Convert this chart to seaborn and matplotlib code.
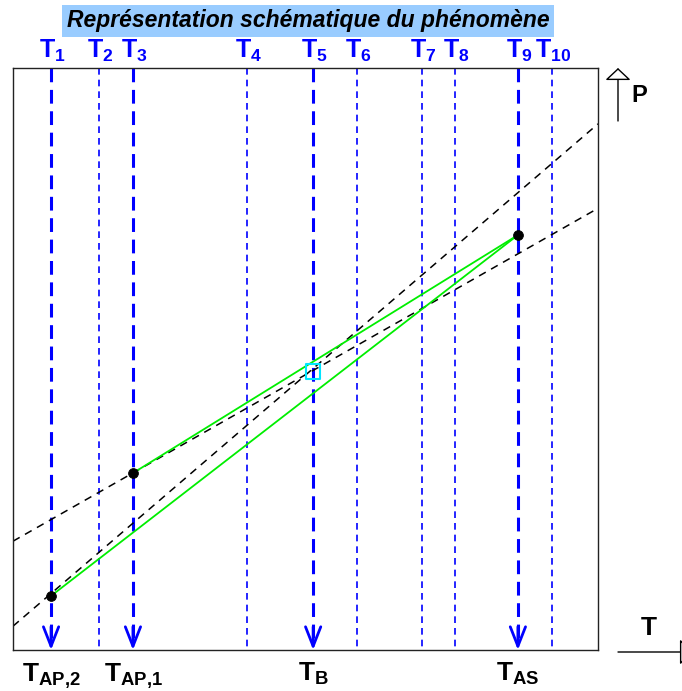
#!/usr/bin/env python3
"""Schematic of the phenomenon: T lines, three states and their tie lines."""

import matplotlib.pyplot as plt
import pandas as pd
import seaborn as sns

sns.set_style("white")
plt.rcParams["font.family"] = ["Liberation Sans", "DejaVu Sans"]
plt.rcParams["text.color"] = "black"
plt.rcParams["mathtext.fontset"] = "custom"
plt.rcParams["mathtext.rm"] = "Liberation Sans:bold"
plt.rcParams["mathtext.it"] = "Liberation Sans:bold"
plt.rcParams["mathtext.bf"] = "Liberation Sans:bold"

# Vertical T lines (axis units 0-100)
T_NAMES = ["1", "2", "3", "4", "5", "6", "7", "8", "9", "10"]
T_POS = [6.5, 14.7, 20.5, 40.0, 51.3, 58.8, 69.9, 75.6, 86.3, 92.1]
T_MAIN = ["1", "3", "5", "9"]          # thick lines ending with an arrow
BOTTOM_LABELS = {"1": "AP{,}2", "3": "AP{,}1", "5": "B", "9": "AS"}

# States (black dots)
STATE_X = [6.5, 20.5, 86.3]
STATE_Y = [9.3, 30.4, 71.3]

# Intersection marker
CROSS_X = [51.3]
CROSS_Y = [47.9]

# Dashed construction lines, end points at x=0 and x=100
LINE_X = [0, 100]
LINE_A_Y = [4.1, 90.4]
LINE_B_Y = [18.7, 75.9]

TITLE = "Représentation schématique du phénomène"


def main():
    fig = plt.figure(figsize=(6.82, 6.91), dpi=100)
    ax = fig.add_axes([0.0191, 0.0593, 0.8578, 0.8423])
    ax.set(xlim=(0, 100), ylim=(0, 100), xticks=[], yticks=[])
    for s in ax.spines.values():
        s.set_color("#222222")
        s.set_linewidth(1.0)

    # T lines
    for name, x in zip(T_NAMES, T_POS):
        if name in T_MAIN:
            ax.plot([x, x], [100, 1.5], color="blue", lw=2.2,
                    dashes=(4.5, 2.5), zorder=2)
            ax.annotate("", xy=(x, 0), xytext=(x, 4),
                        arrowprops=dict(arrowstyle="->,head_length=1.4,head_width=0.55",
                                        color="blue", lw=2, shrinkA=0, shrinkB=0))
            ax.annotate(rf"$\mathrm{{T}}_{{\mathrm{{{BOTTOM_LABELS[name]}}}}}$",
                        xy=(x, 0), xycoords="data", xytext=(0, -8),
                        textcoords="offset points", ha="center", va="top",
                        fontsize=19, color="black", annotation_clip=False)
        else:
            ax.plot([x, x], [100, 0], color="blue", lw=1.2,
                    dashes=(4, 3), zorder=2)
        ax.annotate(rf"$\mathrm{{T}}_{{{name}}}$", xy=(x, 100), xytext=(1, 3),
                    textcoords="offset points", ha="center", va="bottom",
                    fontsize=18, color="blue", annotation_clip=False)

    # Dashed construction lines
    lines = pd.DataFrame({"x": LINE_X * 2, "y": LINE_A_Y + LINE_B_Y,
                          "line": ["a", "a", "b", "b"]})
    sns.lineplot(data=lines, x="x", y="y", units="line", estimator=None,
                 color="black", lw=1.1, legend=False, ax=ax,
                 dashes=False, linestyle=(0, (5, 4)))

    # Green tie lines to the last state
    green = pd.DataFrame({"x": [STATE_X[0], STATE_X[2], STATE_X[1], STATE_X[2]],
                          "y": [STATE_Y[0], STATE_Y[2], STATE_Y[1], STATE_Y[2]],
                          "seg": ["p", "p", "q", "q"]})
    sns.lineplot(data=green, x="x", y="y", units="seg", estimator=None,
                 sort=False, color="#00ee00", lw=1.3, legend=False, ax=ax)

    sns.scatterplot(x=STATE_X, y=STATE_Y, color="black", s=50,
                    edgecolor="black", zorder=5, ax=ax)
    ax.scatter(CROSS_X, CROSS_Y, marker="s", s=110, facecolor="none",
               edgecolor="#00e5ff", lw=1.5, zorder=5)
    ax.set(xlabel="", ylabel="")

    # Title
    fig.text(308 / 682, 1 - 21 / 691, TITLE, ha="center", va="center",
             fontsize=16.5, fontweight="bold", fontstyle="italic", color="black",
             bbox=dict(boxstyle="square,pad=0.2", fc="#99ccff", ec="none"))

    # Axis arrows P and T
    ax.annotate("", xy=(618, 691 - 68), xytext=(618, 691 - 121),
                xycoords="figure pixels", textcoords="figure pixels",
                arrowprops=dict(arrowstyle="-|>,head_length=0.75,head_width=0.8",
                                fc="white", ec="black", lw=1, shrinkA=0, shrinkB=0),
                annotation_clip=False)
    fig.text(631 / 682, 1 - 96 / 691, "P", ha="left", va="center",
             fontsize=17, fontweight="bold")
    ax.annotate("", xy=(692, 691 - 652), xytext=(618, 691 - 652),
                xycoords="figure pixels", textcoords="figure pixels",
                arrowprops=dict(arrowstyle="-|>,head_length=0.75,head_width=0.8",
                                fc="white", ec="black", lw=1, shrinkA=0, shrinkB=0),
                annotation_clip=False)
    fig.text(649 / 682, 1 - 628 / 691, "T", ha="center", va="center",
             fontsize=19, fontweight="bold")

    fig.savefig("out.png", dpi=100)


if __name__ == "__main__":
    main()
